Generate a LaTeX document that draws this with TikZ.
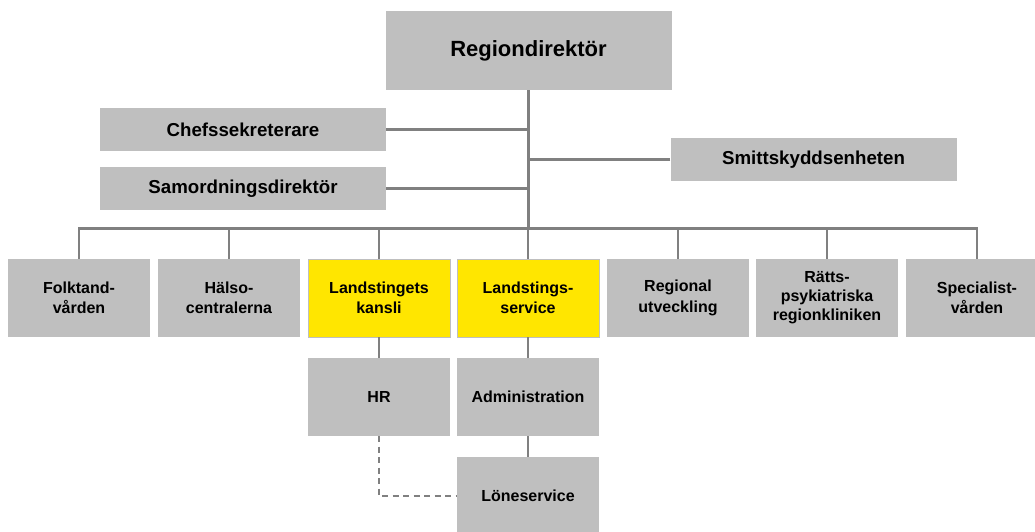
\documentclass[tikz,border=0pt]{standalone}
\usepackage{fontspec}
\setmainfont{Liberation Sans}
\definecolor{boxgray}{HTML}{BFBFBF}
\definecolor{boxyellow}{HTML}{FFE600}
\definecolor{linegray}{HTML}{808080}
\begin{document}
\begin{tikzpicture}[x=1pt,y=-1pt,
  box/.style={fill=boxgray, inner sep=0pt, align=center,
    font=\bfseries\fontsize{16}{20.5}\selectfont},
  unit/.style={box, minimum width=142pt, minimum height=78pt},
  staff/.style={box, minimum width=286pt, minimum height=43pt,
    font=\bfseries\fontsize{18.7}{22}\selectfont},
  hl/.style={fill=boxyellow, draw=boxgray, line width=0.8pt},
  conn/.style={draw=linegray, line width=2.3pt},
  dconn/.style={conn, line width=2pt, dash pattern=on 6pt off 4.5pt}]
\useasboundingbox (0,0) rectangle (1035,532);
\node[box, minimum width=286pt, minimum height=79pt,
  font=\bfseries\fontsize{22}{26}\selectfont] (rd) at (528.5,50.5) {Regiondirektör};
\node[staff] (chef) at (243,129.5) {Chefssekreterare};
\node[staff] (samo) at (243,188.5) {Samordningsdirektör};
\node[staff] (smitt) at (813.5,159.5) {Smittskyddsenheten};
\node[unit] (folk) at (79,298) {Folktand-\\vården};
\node[unit] (halso) at (229,298) {Hälso-\\centralerna};
\node[unit,hl] (lk) at (379,298) {Landstingets\\kansli};
\node[unit,hl] (ls) at (528,298) {Landstings-\\service};
\node[unit] (reg) at (678,298) {Regional\\utveckling};
\node[unit, font=\bfseries\fontsize{16}{19}\selectfont] (ratt) at (827,298) {Rätts-\\psykiatriska\\regionkliniken};
\node[unit] (spec) at (977,298) {Specialist-\\vården};
\node[unit] (hr) at (379,397) {HR};
\node[unit] (adm) at (528,397) {Administration};
\node[unit] (lon) at (528,496) {Löneservice};
\coordinate (bus) at (528.5,228.5);
\draw[conn] (rd.south) -- (bus);
\draw[conn] (chef.east) -- (chef.east -| rd.south);
\draw[conn] (samo.east) -- (samo.east -| rd.south);
\draw[conn] (smitt.west) -- (smitt.west -| rd.south);
\foreach \c in {folk,halso,lk,ls,reg,ratt,spec}
  \draw[conn] (bus) -| (\c.north);
\draw[conn] (lk.south) -- (hr.north);
\draw[conn] (ls.south) -- (adm.north);
\draw[conn] (adm.south) -- (lon.north);
\draw[dconn] (hr.south) |- (lon.west);
\end{tikzpicture}
\end{document}
